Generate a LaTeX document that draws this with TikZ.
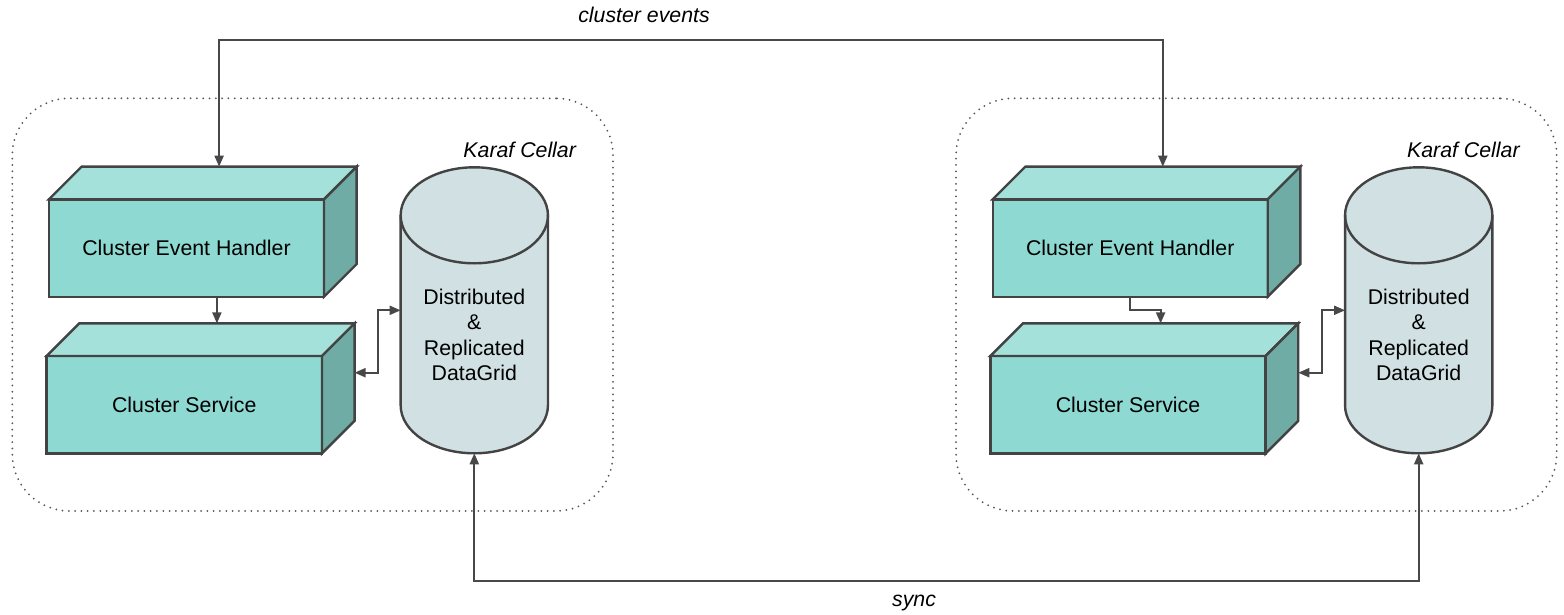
\documentclass[tikz,border=0pt]{standalone}
\usepackage{fontspec}
\setmainfont{Liberation Sans}
\usetikzlibrary{arrows.meta,calc}
\definecolor{frontc}{HTML}{8ED9D2}
\definecolor{topc}{HTML}{A5E1DB}
\definecolor{sidec}{HTML}{6FACA6}
\definecolor{cylc}{HTML}{D0E0E3}
\definecolor{linec}{HTML}{434343}
\definecolor{connc}{HTML}{484848}
\definecolor{dotc}{HTML}{555555}

\tikzset{
  frontface/.style={draw=linec, line width=2.4pt, fill=frontc, minimum height=97.4pt,
                    outer sep=0pt, inner sep=0pt},
  topface/.style={draw=linec, line width=2.4pt, fill=topc},
  sideface/.style={draw=linec, line width=2.4pt, fill=sidec},
  cylnode/.style={minimum width=147.3pt, minimum height=286pt, outer sep=0pt, inner sep=0pt},
  cylface/.style={draw=linec, line width=2.4pt, fill=cylc},
  cylline/.style={draw=linec, line width=2.4pt},
  cellbox/.style={draw=dotc, line width=2pt, dash pattern=on 0pt off 6.3pt, line cap=round,
                  rounded corners=57pt, inner sep=0pt, outer sep=0pt},
  conn/.style={draw=connc, line width=2pt},
  oneway/.style={conn, -{Triangle[length=11pt,width=9pt]}},
  twoway/.style={conn, {Triangle[length=11pt,width=9pt]}-{Triangle[length=11pt,width=9pt]}},
  lbl/.style={font=\fontsize{21.3}{25.3}\selectfont\itshape, inner sep=0pt},
}

\newcommand{\cubebox}[5]{%
  \node[frontface, minimum width=#4] (#1) at (#2,#3) {#5};
  \draw[topface] (#1.north west) -- ($(#1.north west)+(32.6,-32.6)$) -- ($(#1.north east)+(32.6,-32.6)$) -- (#1.north east) -- cycle;
  \draw[sideface] (#1.north east) -- ($(#1.north east)+(32.6,-32.6)$) -- ($(#1.south east)+(32.6,-32.6)$) -- (#1.south east) -- cycle;
  \coordinate (#1top) at ($(#1.north)+(32.6,-32.6)$);
  \coordinate (#1side) at ($(#1.east)+(32.6,-32)$);
}

\newcommand{\datacyl}[3]{%
  \node[cylnode] (#1) at (#2,310.3) {};
  \draw[cylface] ($(#1.north west)+(0,48)$) -- ($(#1.south west)+(0,-48)$)
     arc[start angle=180,end angle=360,x radius=73.65pt,y radius=48pt]
     -- ($(#1.north east)+(0,48)$)
     arc[start angle=0,end angle=180,x radius=73.65pt,y radius=48pt] -- cycle;
  \draw[cylline] ($(#1.north west)+(0,48)$) arc[start angle=180,end angle=360,x radius=73.65pt,y radius=48pt];
  \node[align=center, inner sep=0pt] (#3) at ($(#1.center)+(0,24.7)$) {Distributed\\\&\\Replicated\\DataGrid};
}

\begin{document}
\begin{tikzpicture}[x=1pt,y=-1pt, font=\fontsize{21.3}{25.3}\selectfont]
\useasboundingbox (0,0) rectangle (1564,615);

% cells
\node[cellbox, minimum width=600.7pt, minimum height=412.7pt] (cell1) at (312.65,304.65) {};
\node[cellbox, minimum width=600.7pt, minimum height=412.7pt] (cell2) at (1256.35,304.65) {};
\node[lbl] (karaf1) at (519.7,150) {Karaf Cellar};
\node[lbl] (karaf2) at (1463.4,150) {Karaf Cellar};

% left cell
\cubebox{ceh1}{186.5}{248}{275pt}{Cluster Event Handler}
\cubebox{cs1}{184.3}{404.7}{275.3pt}{Cluster Service}
\datacyl{db1}{474.3}{db1text}

% right cell
\cubebox{ceh2}{1130.2}{248}{275pt}{Cluster Event Handler}
\cubebox{cs2}{1128}{404.7}{275.3pt}{Cluster Service}
\datacyl{db2}{1418.7}{db2text}

% connectors
\draw[twoway] (ceh1top) -- ++(0,-126.7) -| (ceh2top);
\node[lbl] (evlabel) at (644,15) {cluster events};

\draw[oneway] (ceh1.south -| cs1top) -- (cs1top);
\draw[oneway] (ceh2.south) -- ++(0,13.5) -| (cs2top);

\draw[twoway] (cs1side) -- ++(23.5,0) |- (db1.west);
\draw[twoway] (cs2side) -- ++(23.5,0) |- (db2.west);

\draw[twoway] (db1.south) -- ++(0,127.7) -| (db2.south);
\node[lbl] (synclabel) at (914,603) {sync};
\end{tikzpicture}
\end{document}
